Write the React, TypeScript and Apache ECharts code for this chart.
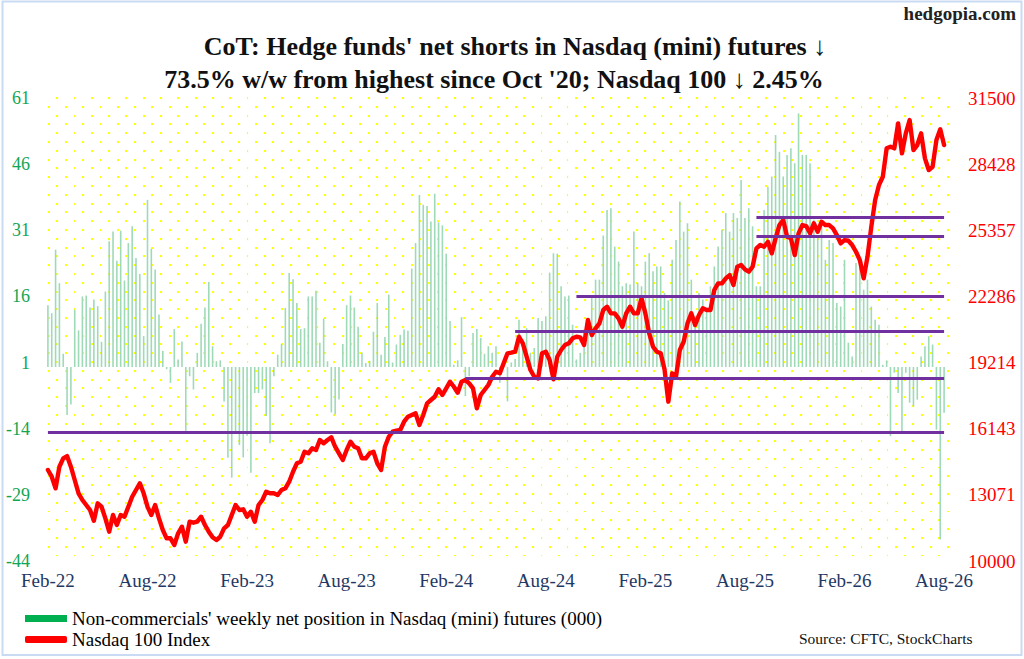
import React, { useEffect, useRef } from "react";
import * as echarts from "echarts";

const FONT = "'Liberation Serif', 'Times New Roman', serif";

const BAR_NAME = "Non-commercials' weekly net position in Nasdaq (mini) futures (000)";
const LINE_NAME = "Nasdaq 100 Index";
const TITLE_1 = "CoT: Hedge funds' net shorts in Nasdaq (mini) futures \u2193";
const TITLE_2 = "73.5% w/w from highest since Oct '20; Nasdaq 100 \u2193 2.45%";

const xTickLabels = ["Feb-22", "Aug-22", "Feb-23", "Aug-23", "Feb-24", "Aug-24", "Feb-25", "Aug-25", "Feb-26", "Aug-26"];
const leftTicks = ["-44", "-29", "-14", "1", "16", "31", "46", "61"];
const rightTicks = ["10000", "13071", "16143", "19214", "22286", "25357", "28428", "31500"];

// Non-commercials' weekly net position (000)
const netPosition = [
  14.0, 12.2, 26.6, 19.0, 3.0, -10.9, -8.5, 13.0, 8.3, 16.0,
  16.2, 13.5, 15.3, 13.8, 5.7, 17.1, 28.5, 30.7, 24.1, 30.9,
  19.6, 28.1, 31.9, 24.7, 21.1, 7.0, 37.9, 26.8, 22.1, 11.9,
  3.6, -0.5, -3.6, 8.6, 1.7, 5.8, -14.5, -2.1, -5.1, 3.2,
  9.8, 13.5, 19.3, 4.7, 1.3, 1.5, -7.8, -20.6, -25.1, -14.9,
  -17.7, -20.5, -15.6, -24.0, -5.9, -5.9, -5.1, -11.1, -17.3, -2.1,
  2.8, 5.2, 13.4, 21.3, 19.9, 14.5, 8.6, 8.8, 16.0, 16.0,
  17.3, 5.5, 11.0, 1.3, -10.3, -10.8, -7.4, 5.2, 14.0, 16.2,
  13.5, 9.1, 3.3, 0.9, 1.4, 8.0, 14.5, 2.8, 6.8, 16.4,
  1.0, 5.1, 7.3, 8.5, 8.2, 22.3, 28.1, 39.0, 36.8, 36.5,
  33.0, 39.3, 32.8, 32.1, 25.7, 10.4, 0.5, 1.5, 11.3, -6.6,
  -2.1, 7.7, 8.6, 6.6, 3.0, 4.7, 3.2, 4.7, -3.6, 1.0,
  -7.8, 1.0, 1.8, 10.7, 6.2, 8.8, 3.2, 4.3, 11.1, 10.4,
  11.5, 21.4, 25.8, 25.7, 18.3, 16.0, 16.2, 9.6, 1.7, 3.2,
  8.5, 10.0, 16.0, 19.8, 19.8, 29.8, 35.6, 36.0, 27.3, 23.9,
  18.3, 19.0, 18.7, 30.7, 19.0, 18.3, 23.9, 25.8, 21.7, 22.8,
  22.8, 16.8, 15.1, 24.3, 28.8, 37.5, 30.7, 32.6, 19.8, 11.5,
  16.8, 15.3, 13.0, 18.3, 22.8, 27.3, 31.1, 34.9, 30.7, 34.9,
  33.8, 42.4, 33.8, 36.0, 31.9, 18.3, 18.3, 35.6, 40.9, 43.2,
  52.6, 48.8, 43.2, 48.1, 49.6, 46.2, 57.5, 48.1, 48.1, 46.2,
  33.4, 29.6, 31.9, 24.3, 28.8, 28.1, 14.5, 13.7, 24.3, 5.5,
  2.4, 23.6, 24.3, 17.5, 19.8, 13.7, 10.7, 9.6, 0.5, 1.5,
  -15.7, -1.3, -5.9, -14.6, -1.3, -8.1, -8.9, -7.4, 2.4, 4.7,
  7.0, 5.1, -14.2, -39.1, -10.4,
];

// Nasdaq 100 index, weekly close
const nasdaq100 = [
  14225, 13914, 13375, 14378, 14768, 14875, 14378, 13761, 13143, 12832,
  12600, 12368, 11871, 12679, 12521, 11982, 11360, 12136, 11671, 12136,
  12057, 12521, 12985, 13297, 13607, 13143, 12521, 12136, 12600, 11982,
  11439, 11053, 11053, 10743, 11286, 11593, 10897, 11825, 11778, 11825,
  12057, 11671, 11360, 11100, 10975, 11128, 11518, 11671, 12136, 12600,
  12368, 12400, 12057, 12289, 11825, 12600, 12832, 13218, 13143, 13143,
  13064, 13297, 13375, 13682, 14146, 14536, 14611, 15075, 15000, 15232,
  15154, 15618, 15464, 15618, 15743, 15307, 15000, 14690, 15154, 15540,
  15307, 15232, 14768, 14768, 15000, 15075, 14536, 14225, 15307, 15771,
  16003, 16050, 16082, 16468, 16700, 16779, 16858, 16315, 16779, 17322,
  17475, 17628, 17972, 17707, 18018, 18325, 18093, 17815, 18325, 18404,
  18250, 18018, 17090, 17707, 17940, 18172, 18557, 18789, 18715, 19179,
  19643, 19673, 19718, 20414, 20107, 19486, 18868, 18557, 18480, 19643,
  19718, 19333, 18437, 19486, 19797, 20029, 20107, 20340, 20414, 20386,
  20029, 21190, 20493, 20804, 21036, 21654, 21808, 21500, 21500, 21268,
  20879, 21500, 21808, 21500, 21500, 22197, 21500, 20572, 19950, 19718,
  19643, 18900, 17398, 18715, 18557, 19800, 20182, 21036, 21500, 20957,
  21422, 21733, 21654, 21654, 22583, 22893, 22893, 23125, 23279, 22815,
  23665, 23743, 23543, 23433, 23665, 24519, 24672, 24594, 24825, 24286,
  24983, 25600, 25833, 25057, 24983, 24208, 25215, 25600, 25554, 25215,
  25678, 25290, 25755, 25600, 25600, 25445, 25136, 24751, 24904, 24872,
  24672, 24361, 23975, 23125, 24129, 25522, 26761, 27458, 27843, 29162,
  29238, 29162, 30322, 28929, 29858, 30476, 29083, 29315, 29858, 28697,
  28154, 28309, 29547, 30050, 29314,
];

// horizontal support/resistance levels (Nasdaq 100 scale) and the week each starts
const levelValues = [15960, 18470, 20650, 22286, 25080, 25960];
const levelStartWeek = [0, 109, 122, 138, 185, 185];

// weekly categories
const weeks: string[] = netPosition.map((_, i) =>
  new Date(Date.UTC(2022, 1, 1) + i * 7 * 86400000).toISOString().slice(0, 10)
);

const LEFT_MIN = -44;
const LEFT_MAX = 61;
const LEFT_STEP = 15;
const RIGHT_MIN = 10000;
const RIGHT_MAX = 31500;
const RIGHT_STEP = (RIGHT_MAX - RIGHT_MIN) / 7;

const dotSvg =
  "<svg xmlns='http://www.w3.org/2000/svg' width='17.3' height='17.6'>" +
  "<rect x='1' y='1' width='2' height='2' fill='#ffff00'/>" +
  "<rect x='9.65' y='9.8' width='2' height='2' fill='#ffff00'/></svg>";
const DOTS = `url("data:image/svg+xml,${encodeURIComponent(dotSvg)}")`;

export default function App() {
  const ref = useRef<HTMLDivElement>(null);

  useEffect(() => {
    document.body.style.margin = "0";
    if (!ref.current) return;
    const chart = echarts.init(ref.current, null, { renderer: "svg" });

    const option: any = {
      animation: false,
      textStyle: { fontFamily: FONT },
      title: [
        {
          text: TITLE_1,
          left: 515,
          top: 33,
          textAlign: "center",
          padding: 0,
          textStyle: { fontSize: 26, fontWeight: "bold", color: "#111", fontFamily: FONT },
        },
        {
          text: TITLE_2,
          left: 494,
          top: 66,
          textAlign: "center",
          padding: 0,
          textStyle: { fontSize: 26, fontWeight: "bold", color: "#111", fontFamily: FONT },
        },
      ],
      grid: { left: 46, right: 78, top: 98, bottom: 98 },
      legend: {
        orient: "vertical",
        left: 25,
        top: 608,
        padding: 0,
        itemGap: 0,
        itemWidth: 42,
        itemHeight: 7,
        selectedMode: false,
        textStyle: { fontSize: 19, color: "#000", fontFamily: FONT, lineHeight: 21 },
        data: [
          { name: BAR_NAME, icon: "rect", itemStyle: { color: "#00b050" } },
          {
            name: LINE_NAME,
            icon: "roundRect",
            itemStyle: { color: "#ff0000" },
            lineStyle: { color: "#ff0000", width: 5, cap: "round" },
          },
        ],
      },
      xAxis: {
        type: "category",
        data: weeks,
        boundaryGap: true,
        axisLine: { show: false },
        axisTick: { show: false },
        splitLine: { show: false },
        axisLabel: {
          interval: 25,
          margin: 10,
          color: "#1f3864",
          fontSize: 19,
          fontFamily: FONT,
          formatter: (_v: string, i: number) => xTickLabels[Math.round(i / 26)] ?? "",
        },
      },
      yAxis: [
        {
          type: "value",
          position: "left",
          min: LEFT_MIN,
          max: LEFT_MAX,
          interval: LEFT_STEP,
          axisLine: { show: false },
          axisTick: { show: false },
          splitLine: { show: false },
          axisLabel: {
            margin: 16,
            color: "#12a654",
            fontSize: 18,
            fontFamily: FONT,
            formatter: (v: number) => leftTicks[Math.round((v - LEFT_MIN) / LEFT_STEP)] ?? "",
          },
        },
        {
          type: "value",
          position: "right",
          min: RIGHT_MIN,
          max: RIGHT_MAX,
          interval: RIGHT_STEP,
          axisLine: { show: false },
          axisTick: { show: false },
          splitLine: { show: false },
          axisLabel: {
            margin: 22,
            color: "#ff0000",
            fontSize: 19,
            fontFamily: FONT,
            formatter: (v: number) => rightTicks[Math.round((v - RIGHT_MIN) / RIGHT_STEP)] ?? "",
          },
        },
      ],
      series: [
        {
          name: BAR_NAME,
          type: "bar",
          yAxisIndex: 0,
          data: netPosition,
          barWidth: 1.6,
          itemStyle: { color: "#9fdab8" },
          silent: true,
          z: 2,
        },
        {
          name: "levels",
          type: "line",
          yAxisIndex: 1,
          data: [],
          silent: true,
          z: 3,
          markLine: {
            symbol: ["none", "none"],
            silent: true,
            label: { show: false },
            emphasis: { disabled: true },
            lineStyle: { color: "#7030a0", width: 3, type: "solid", opacity: 1 },
            data: levelValues.map((v, i) => [
              { coord: [levelStartWeek[i], v] },
              { coord: [weeks.length - 1, v] },
            ]),
          },
        },
        {
          name: LINE_NAME,
          type: "line",
          yAxisIndex: 1,
          data: nasdaq100,
          symbol: "none",
          showSymbol: false,
          silent: true,
          z: 4,
          itemStyle: { color: "#ff0000" },
          lineStyle: { color: "#ff0000", width: 4.4, cap: "round", join: "round" },
        },
      ],
      graphic: [
        {
          type: "rect",
          silent: true,
          shape: { x: 2.5, y: 1.5, width: 1019, height: 653.5 },
          style: { fill: "none", stroke: "#c9dbf2", lineWidth: 2 },
        },
        {
          type: "text",
          silent: true,
          x: 1016,
          y: 13,
          style: {
            text: "hedgopia.com",
            fill: "#222",
            fontSize: 19,
            fontWeight: "bold",
            fontFamily: FONT,
            align: "right",
            verticalAlign: "middle",
          },
        },
        {
          type: "text",
          silent: true,
          x: 799,
          y: 638,
          style: {
            text: "Source: CFTC, StockCharts",
            fill: "#111",
            fontSize: 15.5,
            fontFamily: FONT,
            align: "left",
            verticalAlign: "middle",
          },
        },
      ],
    };

    chart.setOption(option);
    return () => chart.dispose();
  }, []);

  return (
    <div style={{ position: "absolute", left: 0, top: 0, width: 1024, height: 659, background: "#fff", overflow: "hidden" }}>
      <div
        style={{
          position: "absolute",
          left: 46,
          top: 97,
          width: 906,
          height: 466,
          backgroundImage: DOTS,
          backgroundSize: "17.3px 17.6px",
          backgroundPosition: "9.3px 16.7px",
          backgroundRepeat: "repeat",
        }}
      />
      <div ref={ref} style={{ position: "absolute", left: 0, top: 0, width: 1024, height: 659 }} />
    </div>
  );
}
